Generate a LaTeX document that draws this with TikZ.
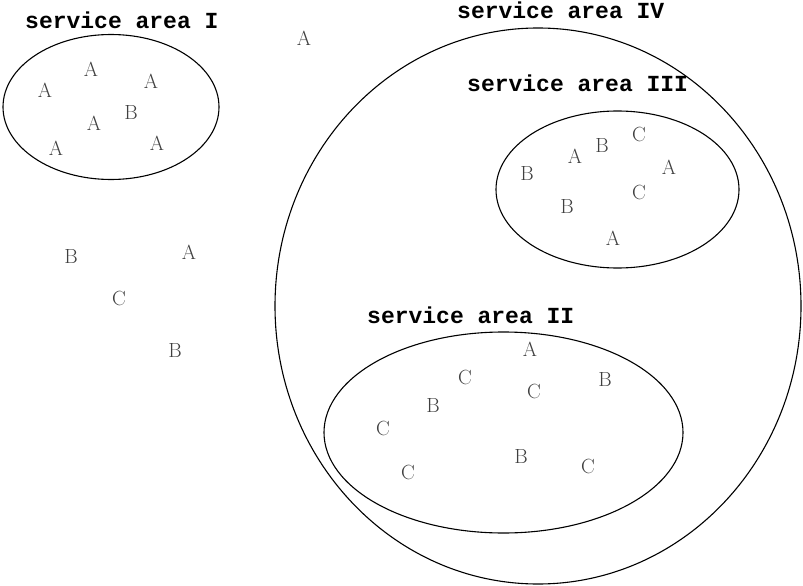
\documentclass[tikz,border=0pt]{standalone}
\usepackage{fontspec}
\newfontfamily\labelfont{Liberation Mono}
\begin{document}
\begin{tikzpicture}[x=1pt,y=-1pt,
  area/.style={draw=black,line width=1.1pt},
  lbl/.style={anchor=base west,inner sep=0pt,font=\labelfont\bfseries\fontsize{23}{23}\selectfont},
  ltr/.style={inner sep=0pt,text=black!75,font=\fontsize{20.5}{20.5}\selectfont}]
\useasboundingbox (0,0) rectangle (803,586);
% ellipses
\draw[area] (111,107) ellipse [x radius=108, y radius=72.5];
\draw[area] (538,306) ellipse [x radius=263, y radius=278];
\draw[area] (617.5,189.5) ellipse [x radius=121.5, y radius=78.5];
\draw[area] (503.5,432.5) ellipse [x radius=179.5, y radius=100.5];
% labels
\node[lbl] (lI) at (25,29) {service area I};
\node[lbl] (lIV) at (457,19) {service area IV};
\node[lbl] (lIII) at (467,92) {service area III};
\node[lbl] (lII) at (367,323) {service area II};
% area I
\node[ltr] (a1) at (91,69) {A};
\node[ltr] (a2) at (151,81) {A};
\node[ltr] (a3) at (45,90) {A};
\node[ltr] (a4) at (131,112) {B};
\node[ltr] (a5) at (94,123) {A};
\node[ltr] (a6) at (56,148) {A};
\node[ltr] (a7) at (157,143) {A};
% outside
\node[ltr] (o1) at (304,38) {A};
\node[ltr] (o2) at (71,256) {B};
\node[ltr] (o3) at (189,252) {A};
\node[ltr] (o4) at (119,298) {C};
\node[ltr] (o5) at (175,350) {B};
% area III
\node[ltr] (c1) at (639,134) {C};
\node[ltr] (c2) at (602,145) {B};
\node[ltr] (c3) at (575,156) {A};
\node[ltr] (c4) at (527,173) {B};
\node[ltr] (c5) at (669,167) {A};
\node[ltr] (c6) at (639,192) {C};
\node[ltr] (c7) at (567,206) {B};
\node[ltr] (c8) at (613,238) {A};
% area II
\node[ltr] (b1) at (530,349) {A};
\node[ltr] (b2) at (465,377) {C};
\node[ltr] (b3) at (605,379) {B};
\node[ltr] (b4) at (534,391) {C};
\node[ltr] (b5) at (433,405) {B};
\node[ltr] (b6) at (383,428) {C};
\node[ltr] (b7) at (521,456) {B};
\node[ltr] (b8) at (588,466) {C};
\node[ltr] (b9) at (408,472) {C};
\end{tikzpicture}
\end{document}
